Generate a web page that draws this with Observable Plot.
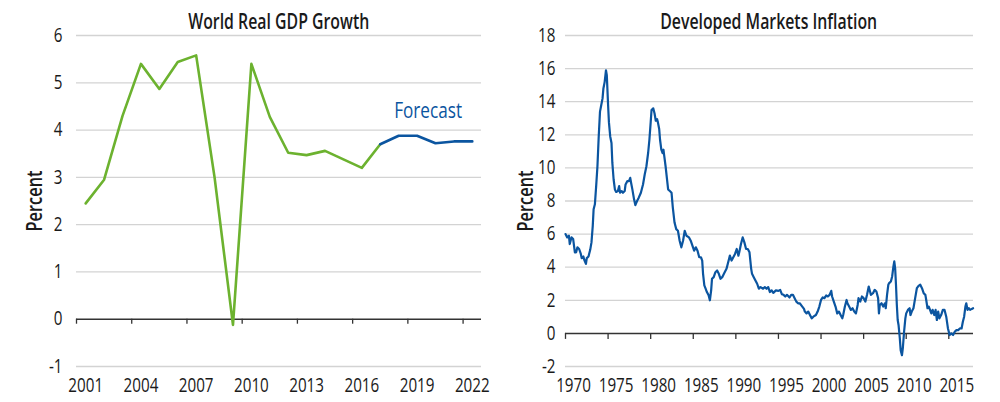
<!DOCTYPE html>
<html>
<head>
<meta charset="utf-8">
<script src="https://cdn.jsdelivr.net/npm/d3@7"></script>
<script src="https://cdn.jsdelivr.net/npm/@observablehq/plot@0.6"></script>
<style>
  body { margin: 0; background: #fff; }
  #wrap { display: flex; width: 1000px; height: 402px; font-family: "Open Sans", "Noto Sans", sans-serif; color: #1a1a1a; }
  .panel { width: 500px; height: 402px; }
  .title { height: 25px; box-sizing: border-box; padding-top: 10px; line-height: 20px; font-size: 22px; font-weight: 600; text-align: center; white-space: nowrap; }
  .title span { display: inline-block; transform: scaleX(0.72); transform-origin: 50% 50%; }
  svg { overflow: visible; }
</style>
</head>
<body>
<div id="wrap">
  <div class="panel" id="p1"><div class="title" style="padding-left:76px;padding-right:19px"><span>World Real GDP Growth</span></div></div>
  <div class="panel" id="p2"><div class="title" style="padding-left:65px;padding-right:27px"><span>Developed Markets Inflation</span></div></div>
</div>
<script>
// ---------- World Real GDP Growth ----------
const gdpYears  = [2001,2002,2003,2004,2005,2006,2007,2008,2009,2010,2011,2012,2013,2014,2015,2016,2017,2018,2019,2020,2021,2022];
const gdpValues = [2.45,2.95,4.3,5.4,4.87,5.44,5.58,3.0,-0.12,5.4,4.28,3.52,3.47,3.56,3.38,3.2,3.7,3.88,3.88,3.72,3.76,3.76];
const forecastStart = 2017;
const gdpYTicks = [-1,0,1,2,3,4,5,6];
const gdpXLabels = [2001,2004,2007,2010,2013,2016,2019,2022];
const gdpXTickMarks = [2000.5,2003.5,2006.5,2009.5,2012.5,2015.5,2018.5,2021.5];
const forecastLabel = [{text: "Forecast", year: 2019.6, value: 4.4}];

// ---------- Developed Markets Inflation ----------
const inflDates = [
1970.0,1970.2,1970.4,1970.5,1970.7,1970.9,1971.1,1971.25,1971.4,1971.6,1971.8,1971.9,
1972.1,1972.2,1972.4,1972.5,1972.7,1972.9,1973.05,1973.2,1973.3,1973.45,1973.6,1973.75,1973.9,
1974.05,1974.2,1974.35,1974.45,1974.6,1974.75,1974.85,1975.0,1975.1,1975.25,1975.4,1975.5,1975.65,1975.8,1975.95,
1976.15,1976.3,1976.4,1976.6,1976.75,1976.95,1977.05,1977.25,1977.45,1977.6,1977.7,1977.85,
1978.05,1978.2,1978.4,1978.6,1978.85,1979.1,1979.3,1979.5,1979.7,1979.85,
1980.0,1980.1,1980.3,1980.45,1980.6,1980.75,1980.85,1981.0,1981.1,1981.25,1981.4,1981.5,1981.6,1981.75,1981.9,
1982.05,1982.25,1982.45,1982.6,1982.8,1983.0,1983.2,1983.4,1983.6,1983.8,1984.0,1984.2,1984.5,1984.7,1984.9,
1985.1,1985.3,1985.5,1985.7,1985.9,1986.05,1986.15,1986.3,1986.45,1986.6,1986.8,1986.95,
1987.1,1987.2,1987.4,1987.6,1987.8,1988.0,1988.2,1988.4,1988.6,1988.9,1989.1,1989.3,1989.5,1989.7,1989.9,
1990.1,1990.3,1990.4,1990.6,1990.8,1991.0,1991.2,1991.4,1991.6,1991.7,1991.8,1991.9,
1992.1,1992.3,1992.5,1992.7,1992.9,1993.2,1993.4,1993.6,1993.8,1994.0,1994.2,1994.4,1994.7,
1995.0,1995.2,1995.4,1995.6,1995.8,1996.0,1996.3,1996.5,1996.7,1996.9,1997.1,1997.3,1997.5,1997.8,
1998.0,1998.1,1998.3,1998.5,1998.7,1998.9,1999.1,1999.4,1999.6,1999.8,
2000.0,2000.2,2000.4,2000.6,2000.8,2001.0,2001.2,2001.3,2001.5,2001.7,2001.9,
2002.1,2002.3,2002.5,2002.6,2002.8,2003.0,2003.1,2003.3,2003.5,2003.7,2003.9,
2004.1,2004.3,2004.4,2004.6,2004.8,2005.0,2005.2,2005.4,2005.6,2005.85,
2006.1,2006.3,2006.5,2006.7,2006.8,2006.9,2007.1,2007.3,2007.5,2007.6,2007.75,2007.9,
2008.0,2008.2,2008.35,2008.5,2008.6,2008.7,2008.8,2008.9,2009.0,2009.1,2009.25,2009.35,2009.5,2009.6,2009.75,2009.9,
2010.0,2010.2,2010.4,2010.5,2010.65,2010.85,2011.05,2011.25,2011.45,2011.65,2011.85,
2012.05,2012.25,2012.35,2012.5,2012.65,2012.8,2012.95,2013.1,2013.3,2013.45,2013.6,2013.75,2013.9,
2014.1,2014.3,2014.5,2014.7,2014.9,2015.1,2015.3,2015.5,2015.7,2015.9,
2016.1,2016.3,2016.5,2016.65,2016.8,2016.95,2017.05,2017.2,2017.35,2017.5,2017.7,2017.85
];
const inflValues = [
6.0,5.8,5.9,5.4,5.8,5.7,4.9,4.9,5.2,5.1,4.8,4.55,
4.65,4.45,4.2,4.55,4.65,5.05,5.5,6.5,7.5,7.8,8.9,10.1,11.9,
13.4,13.8,14.2,14.8,15.2,15.9,15.6,13.8,12.75,11.9,11.5,10.3,9.3,8.7,8.55,
8.6,8.9,8.5,8.6,8.5,8.6,9.0,9.2,9.2,9.4,9.1,8.7,
8.1,7.75,8.0,8.2,8.5,9.0,9.6,10.1,10.9,11.7,
12.75,13.5,13.6,13.3,12.85,12.95,12.75,12.35,11.7,11.1,10.9,11.1,10.7,10.1,9.4,
8.7,8.6,8.5,7.6,6.7,6.3,6.2,5.6,5.2,5.6,6.2,5.9,5.8,5.6,5.3,
5.0,5.2,5.0,4.6,4.6,4.4,3.6,2.9,2.7,2.5,2.3,2.0,
2.6,3.3,3.4,3.7,3.8,3.6,3.3,3.4,3.6,3.9,4.3,4.7,4.4,4.6,4.8,
5.1,4.7,4.9,5.4,5.8,5.5,5.1,5.1,4.9,4.4,3.9,3.6,
3.4,3.2,3.0,2.7,2.8,2.7,2.8,2.7,2.8,2.5,2.6,2.45,2.6,
2.57,2.63,2.37,2.33,2.23,2.33,2.17,2.33,2.33,2.13,1.92,1.82,1.82,1.62,
1.48,1.32,1.21,1.32,1.11,0.91,1.01,1.11,1.32,1.62,
2.02,2.17,2.13,2.29,2.23,2.33,2.57,2.23,1.92,1.62,1.21,
1.32,1.11,0.91,1.11,1.62,2.02,1.82,1.62,1.42,1.52,1.32,
1.21,1.72,2.13,1.92,2.23,2.13,1.92,2.33,2.83,2.33,
2.43,2.63,2.53,2.13,1.21,1.72,1.82,1.62,1.82,1.52,2.33,2.94,
3.04,3.14,3.44,4.05,4.35,3.95,2.94,1.72,0.81,0.51,-0.3,-1.01,-1.32,-0.91,0.1,0.91,
1.21,1.42,1.52,1.11,1.32,1.52,2.13,2.73,2.87,2.94,2.73,
2.43,2.33,2.02,1.52,1.62,1.42,1.21,1.42,1.11,1.42,0.81,1.32,0.91,
1.11,1.42,1.42,1.01,0.3,-0.1,0.0,-0.1,0.1,0.2,
0.2,0.3,0.3,0.7,1.01,1.62,1.82,1.42,1.52,1.42,1.48,1.52
];
const inflYTicks = [-2,0,2,4,6,8,10,12,14,16,18];
const inflXTicks = [1970,1975,1980,1985,1990,1995,2000,2005,2010,2015];

// ---------- styles ----------
const FONT = '"Open Sans", "Noto Sans", sans-serif';
const CONDENSE = 0.78;
const GREEN = "#6cb22f";
const BLUE = "#0b55a0";
const GRID = "#d3d3d3";
const AXIS = "#333333";
const fmt = d => d < 0 ? "-" + Math.abs(d) : String(d);

// narrow every label horizontally about its own anchor (condensed typeface look)
function condense(svg) {
  svg.querySelectorAll("text").forEach(t => {
    const tr = t.getAttribute("transform") || "";
    const xa = t.getAttribute("x");
    let x = 0;
    if (xa !== null && !isNaN(+xa)) { x = +xa; t.removeAttribute("x"); }
    t.setAttribute("transform", `${tr} translate(${x},0) scale(${CONDENSE},1)`);
  });
  return svg;
}

const gdpRows = gdpYears.map((y, i) => ({year: y, value: gdpValues[i]}));

const left = Plot.plot({
  width: 500, height: 377,
  marginTop: 10, marginBottom: 36, marginLeft: 76, marginRight: 19,
  style: {fontFamily: FONT, fontSize: "19.5px", color: "#1a1a1a", background: "transparent", overflow: "visible"},
  x: {domain: [2000.5, 2022.5]},
  y: {domain: [-1, 6]},
  marks: [
    Plot.ruleY(gdpYTicks.filter(d => d !== 0), {stroke: GRID, strokeWidth: 1.3}),
    Plot.axisY(gdpYTicks, {tickSize: 0, tickPadding: 14, label: null, tickFormat: fmt}),
    Plot.axisX(gdpXLabels, {tickSize: 0, tickPadding: 12, label: null, tickFormat: d => String(d)}),
    Plot.ruleY([0], {stroke: AXIS, strokeWidth: 1.5}),
    Plot.ruleX(gdpXTickMarks, {y1: 0, y2: 0, insetBottom: -5, stroke: AXIS, strokeWidth: 1.3}),
    Plot.line(gdpRows.filter(d => d.year <= forecastStart), {x: "year", y: "value", stroke: GREEN, strokeWidth: 2.6}),
    Plot.line(gdpRows.filter(d => d.year >= forecastStart), {x: "year", y: "value", stroke: BLUE, strokeWidth: 2.6}),
    Plot.text(forecastLabel, {x: "year", y: "value", text: "text", fill: BLUE, fontSize: 22, fontWeight: 500}),
    Plot.text(["Percent"], {frameAnchor: "left", textAnchor: "middle", dx: -41, rotate: -90, fontSize: 21, fontWeight: 600, fill: "#1a1a1a"})
  ]
});
document.getElementById("p1").appendChild(condense(left));

const right = Plot.plot({
  width: 500, height: 377,
  marginTop: 10, marginBottom: 36, marginLeft: 65, marginRight: 27,
  style: {fontFamily: FONT, fontSize: "19.5px", color: "#1a1a1a", background: "transparent", overflow: "visible"},
  x: {domain: [1970, 2017.9]},
  y: {domain: [-2, 18]},
  marks: [
    Plot.ruleY(inflYTicks.filter(d => d !== 0), {stroke: GRID, strokeWidth: 1.3}),
    Plot.axisY(inflYTicks, {tickSize: 0, tickPadding: 10, label: null, tickFormat: fmt}),
    Plot.axisX(inflXTicks, {tickSize: 0, tickPadding: 12, dx: 8, label: null, tickFormat: d => String(d)}),
    Plot.ruleY([0], {stroke: AXIS, strokeWidth: 1.5}),
    Plot.ruleX(inflXTicks, {y1: 0, y2: 0, insetBottom: -6, stroke: AXIS, strokeWidth: 1.3}),
    Plot.line(inflValues, {x: inflDates, y: inflValues, stroke: BLUE, strokeWidth: 2.2}),
    Plot.text(["Percent"], {frameAnchor: "left", textAnchor: "middle", dx: -39, rotate: -90, fontSize: 21, fontWeight: 600, fill: "#1a1a1a"})
  ]
});
document.getElementById("p2").appendChild(condense(right));
</script>
</body>
</html>
